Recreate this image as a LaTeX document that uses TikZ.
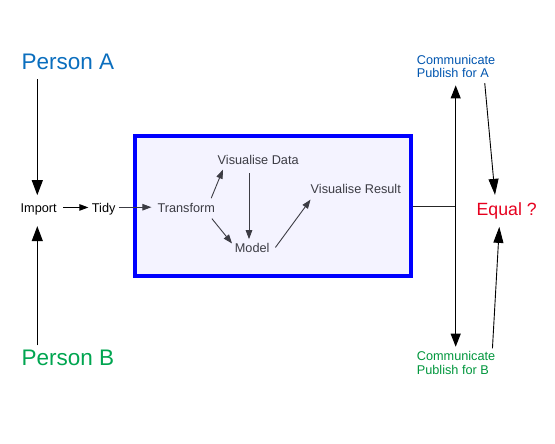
\documentclass[tikz,border=0pt]{standalone}
\usepackage{fontspec}
\setmainfont{Liberation Sans}
\usetikzlibrary{arrows.meta,calc}
\definecolor{pablue}{RGB}{10,110,190}
\definecolor{cablue}{RGB}{0,85,175}
\definecolor{pbgreen}{RGB}{0,165,80}
\definecolor{cbgreen}{RGB}{0,150,60}
\definecolor{eqred}{RGB}{230,0,30}
\definecolor{boxfill}{RGB}{244,243,255}
\definecolor{innergray}{RGB}{60,60,68}
\begin{document}
\begin{tikzpicture}[x=1pt,y=-1pt,
  lbl/.style={inner sep=0pt,anchor=base,font=\fontsize{12.7}{13.2}\selectfont},
  inlbl/.style={lbl,text=innergray},
  person/.style={inner sep=0pt,anchor=base,font=\fontsize{22.5}{26}\selectfont},
  pub/.style={inner sep=0pt,anchor=north west,align=left,font=\fontsize{12.7}{13.2}\selectfont},
  bigarrow/.style={line width=1.1pt,-{Triangle[length=15pt,width=11pt]}},
  eqarrow/.style={line width=0.9pt,-{Triangle[length=16pt,width=10pt]}},
  dblarrow/.style={line width=1.1pt,{Triangle[length=13pt,width=10pt]}-{Triangle[length=13pt,width=10pt]}},
  smallarrow/.style={line width=0.9pt,-{Triangle[length=9pt,width=6.5pt]}},
  inarrow/.style={smallarrow,draw=innergray},
  bluebox/.style={draw=blue,line width=4pt,fill=boxfill,inner sep=0pt}
]
\useasboundingbox (0,0) rectangle (555,444);
% box
\node[bluebox,minimum width=276.5pt,minimum height=140pt] (box) at (272.75,206) {};
% texts
\node[person,text=pablue] (pA) at (68,70) {Person A};
\node[person,text=pbgreen] (pB) at (68,365) {Person B};
\node[lbl] (imp) at (38.7,212.5) {Import};
\node[lbl] (tidy) at (103.7,212.5) {Tidy};
\node[inlbl] (tr) at (186.3,212.5) {Transform};
\node[inlbl] (vd) at (258.2,164.3) {Visualise Data};
\node[inlbl] (md) at (252.2,252.7) {Model};
\node[inlbl] (vr) at (355.8,193.3) {Visualise Result};
\node[inner sep=0pt,anchor=base,text=eqred,font=\fontsize{17.7}{20}\selectfont] (eq) at (506.7,215) {Equal ?};
\node[pub,text=cablue] (cA) at (416.7,55) {Communicate\\Publish for A};
\node[pub,text=cbgreen] (cB) at (416.7,351.4) {Communicate\\Publish for B};
\coordinate (j) at (455.7,206.7);
% connectors
\draw[bigarrow,shorten <=9pt,shorten >=8.4pt] ([xshift=-1.4pt]pA.south -| imp.north) -- ([xshift=-1.4pt]imp.north);
\draw[bigarrow,shorten <=4pt,shorten >=10.8pt] ([xshift=-1.4pt]pB.north -| imp.south) -- ([xshift=-1.4pt]imp.south);
\draw[smallarrow,shorten <=6.6pt,shorten >=3.4pt] ([yshift=2pt]imp.east) -- ([yshift=2pt]imp.east -| tidy.west);
\draw[inarrow,shorten <=3.3pt,shorten >=6pt] ([yshift=2pt]tidy.east) -- ([yshift=2pt]tidy.east -| tr.west);
\draw[inarrow] ($(tr.north east)+(-4,-4.9)$) -- ($(vd.south west)+(5.4,5)$);
\draw[inarrow] ($(vd.south)+(-9.2,8.4)$) -- ($(md.north)+(-3.2,-4.1)$);
\draw[inarrow] ($(tr.south east)+(-3.3,5.8)$) -- ($(md.west)+(-2.7,-4.7)$);
\draw[inarrow] ($(md.east)+(5.7,-0.7)$) -- ($(vr.south west)+(0,6)$);
\draw[line width=0.9pt,draw=black!85] (box.east |- j) -- (j);
\draw[dblarrow,shorten <=7.5pt,shorten >=4.7pt] (j |- cA.south) -- (j |- cB.north);
\draw[eqarrow] ($(cA.south east)+(-10.7,5.2)$) -- ($(eq.north)+(-11.7,-7.1)$);
\draw[eqarrow] ($(cB.north east)+(-3,-3.1)$) -- ($(eq.south)+(-7.4,8)$);
\end{tikzpicture}
\end{document}
